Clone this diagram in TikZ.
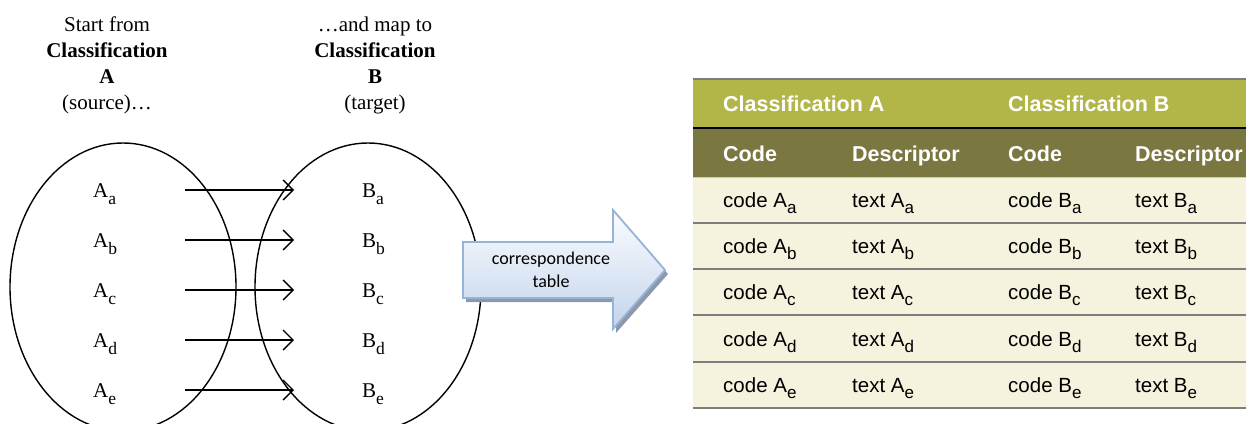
\documentclass[tikz,border=0pt]{standalone}
\usepackage{fontspec}
\setmainfont{Liberation Serif}
\newfontfamily\tabfont{Liberation Sans}
\newfontfamily\calfont{Carlito}
\usetikzlibrary{arrows.meta,shapes.geometric}
\definecolor{headA}{RGB}{178,181,72}
\definecolor{headB}{RGB}{122,119,65}
\definecolor{bodyc}{RGB}{245,242,221}
\definecolor{rulec}{RGB}{125,125,125}
\definecolor{arrfillA}{RGB}{250,252,255}
\definecolor{arrfillB}{RGB}{196,212,235}
\definecolor{arrline}{RGB}{150,180,215}
\definecolor{arrshadow}{RGB}{140,152,172}
\newcommand\lsub[1]{\raisebox{-7pt}{\fontsize{17.5}{17.5}\selectfont #1}}
\newcommand\tsub[1]{\raisebox{-6.5pt}{\fontsize{17}{17}\selectfont #1}}
\tikzset{
  setshape/.style={draw, ellipse, line width=1.4pt, minimum width=226pt, minimum height=288pt, inner sep=0pt},
  toptext/.style={align=center, inner sep=0pt, anchor=north, font=\fontsize{21}{26}\selectfont},
  elabel/.style={anchor=base west, inner sep=0pt, font=\fontsize{21}{24}\selectfont},
  maparrow/.style={line width=1.4pt, -{Straight Barb[length=10pt,width=20pt,line width=1.4pt]}},
  hcell/.style={anchor=base west, inner sep=0pt, text=white, font=\tabfont\bfseries\fontsize{21.5}{24}\selectfont},
  bcell/.style={anchor=base west, inner sep=0pt, font=\tabfont\fontsize{20.5}{24}\selectfont},
  rowrule/.style={draw=rulec, line width=1.5pt}
}
\begin{document}
\begin{tikzpicture}[x=1pt,y=-1pt]
\useasboundingbox (0,0) rectangle (1246,423);
\clip (0,0) rectangle (1246,423);
\fill[white] (0,0) rectangle (1246,423);

% headings
\node[toptext] (headL) at (107,17) {Start from\\\textbf{Classification}\\\textbf{A}\\(source)…};
\node[toptext] (headR) at (375,17) {…and map to\\\textbf{Classification}\\\textbf{B}\\(target)};

% sets
\node[setshape] (setA) at (123,287) {};
\node[setshape] (setB) at (368,287) {};

% labels and arrows
\foreach \l [count=\k from 0] in {a,b,c,d,e}{
  \node[elabel] (A\l) at (93,197+50*\k) {A\lsub{\l}};
  \node[elabel] (B\l) at (362,197+50*\k) {B\lsub{\l}};
  \coordinate (s\l) at (185,190+50*\k);
  \coordinate (t\l) at (294,190+50*\k);
  \draw[maparrow] (s\l) -- (t\l);
}

% big arrow
\fill[arrshadow] (466,246) -- (616,246) -- (616,214) -- (668,274) -- (616,333) -- (616,302) -- (466,302) -- cycle;
\shade[top color=arrfillA, bottom color=arrfillB, draw=arrline, line width=1.8pt]
  (463,242) -- (613,242) -- (613,210) -- (665,270) -- (613,329) -- (613,298) -- (463,298) -- cycle;
\node[align=center, inner sep=0pt, font=\calfont\fontsize{18}{23}\selectfont] (corr) at (551,270) {correspondence\\table};

% table
\fill[headA] (693,79) rectangle (1246,128);
\fill[headB] (693,128) rectangle (1246,177);
\fill[bodyc] (693,177) rectangle (1246,408);
\draw[rowrule] (693,79) -- (1246,79);
\draw[black, line width=1.2pt] (693,128) -- (1246,128);
\draw[draw=rulec!40, line width=1pt] (693,177) -- (1246,177);
\foreach \yy in {223,269,315,362}{\draw[rowrule] (693,\yy) -- (1246,\yy);}
\draw[rowrule, line width=2pt] (693,408) -- (1246,408);

\node[hcell] (hA) at (723,111) {Classification A};
\node[hcell] (hB) at (1008,111) {Classification B};
\node[hcell] (c1) at (723,161) {Code};
\node[hcell] (c2) at (852,161) {Descriptor};
\node[hcell] (c3) at (1008,161) {Code};
\node[hcell] (c4) at (1135,161) {Descriptor};

\foreach \l/\yy in {a/207,b/253,c/299,d/346,e/392}{
  \node[bcell] (ca\l) at (723,\yy) {code A\tsub{\l}};
  \node[bcell] (ta\l) at (852,\yy) {text A\tsub{\l}};
  \node[bcell] (cb\l) at (1008,\yy) {code B\tsub{\l}};
  \node[bcell] (tb\l) at (1135,\yy) {text B\tsub{\l}};
}
\end{tikzpicture}
\end{document}
